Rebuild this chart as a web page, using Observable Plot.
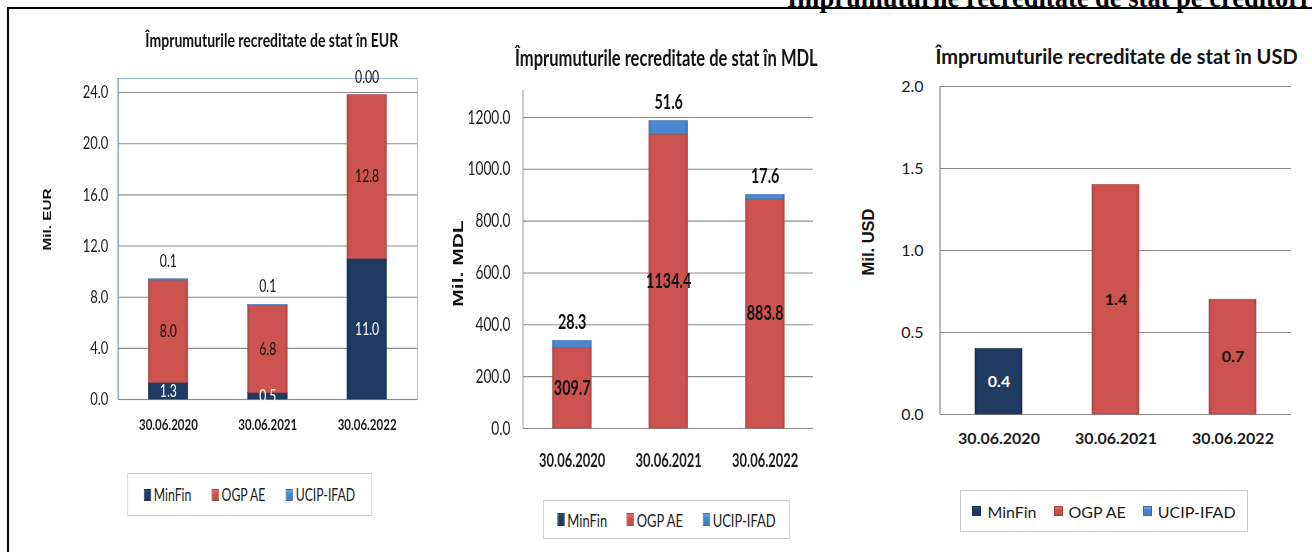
<!DOCTYPE html>
<html>
<head>
<meta charset="utf-8">
<script src="https://cdn.jsdelivr.net/npm/d3@7"></script>
<script src="https://cdn.jsdelivr.net/npm/@observablehq/plot@0.6"></script>
<style>
html,body{margin:0;padding:0;background:#fff;}
#root{position:relative;width:1312px;height:553px;overflow:hidden;background:#fff;}
.panel{position:absolute;top:0;height:553px;transform-origin:0 0;}
.panel svg{position:absolute;left:0;overflow:visible;}
.legend{position:absolute;box-sizing:border-box;border:1.5px solid #cacaca;display:flex;align-items:center;justify-content:center;font-family:Lato,sans-serif;color:#1a1a1a;background:#fff;white-space:nowrap;}
.item{display:flex;align-items:center;}
.sw{display:inline-block;box-sizing:border-box;}
#header{position:absolute;left:787px;top:-15px;font:bold 26.5px/26.5px "Liberation Serif",serif;white-space:nowrap;color:#000;}
#topline{position:absolute;left:7px;top:7px;width:1305px;height:2px;background:#000;}
#leftline{position:absolute;left:7px;top:7px;width:2px;height:545px;background:#000;}
</style>
</head>
<body>
<div id="root">
  <div id="header">Împrumuturile recreditate de stat pe creditori</div>
  <div id="topline"></div>
  <div id="leftline"></div>
</div>
<script>
// ---------- data ----------
const dates = ["30.06.2020", "30.06.2021", "30.06.2022"];
const seriesNames = ["MinFin", "OGP AE", "UCIP-IFAD"];
const seriesColors = ["#1F3B62", "#CD5350", "#4C87CF"];

const eurMinFin = [1.3, 0.5, 11.0];
const eurOgpAe = [8.0, 6.8, 12.8];
const eurUcipIfad = [0.1, 0.1, 0.0];
const eurUcipText = ["0.1", "0.1", "0.00"];
const eurTicks = [0, 4, 8, 12, 16, 20, 24];

const mdlMinFin = [0, 0, 0];
const mdlOgpAe = [309.7, 1134.4, 883.8];
const mdlUcipIfad = [28.3, 51.6, 17.6];
const mdlUcipText = ["28.3", "51.6", "17.6"];
const mdlTicks = [0, 200, 400, 600, 800, 1000, 1200];

const usdMinFin = [0.4, 0, 0];
const usdOgpAe = [0, 1.4, 0.7];
const usdUcipIfad = [0, 0, 0];
const usdTicks = [0, 0.5, 1.0, 1.5, 2.0];

// ---------- helpers ----------
const gradIds = ["gMinFin", "gOgp", "gUcip"];
function shade(c, k) { return d3.color(c).darker(k).formatHex(); }
function lighten(c, k) { return d3.color(c).brighter(k).formatHex(); }

function buildRows(lists) {
  const rows = [];
  dates.forEach((date, i) => {
    let acc = 0;
    lists.forEach((vals, j) => {
      const v = vals[i];
      rows.push({date, series: seriesNames[j], idx: j, value: v, y1: acc, y2: acc + v, mid: acc + v / 2});
      acc += v;
    });
  });
  return rows;
}

function defsMark() {
  return () => {
    const defs = d3.create("svg:defs");
    seriesColors.forEach((c, j) => {
      const g = defs.append("linearGradient").attr("id", gradIds[j]).attr("x1", 0).attr("x2", 1).attr("y1", 0).attr("y2", 0);
      g.append("stop").attr("offset", "0%").attr("stop-color", shade(c, 0.45));
      g.append("stop").attr("offset", "7%").attr("stop-color", c);
      g.append("stop").attr("offset", "93%").attr("stop-color", c);
      g.append("stop").attr("offset", "100%").attr("stop-color", shade(c, 0.45));
    });
    return defs.node();
  };
}

function leftLineMark(color) {
  return (index, scales, values, dims) => {
    return d3.create("svg:line")
      .attr("x1", dims.marginLeft).attr("x2", dims.marginLeft)
      .attr("y1", dims.marginTop).attr("y2", dims.height - dims.marginBottom)
      .attr("stroke", color).attr("stroke-width", 1.2).node();
  };
}

function makePanel(cfg) {
  const root = document.getElementById("root");
  const panel = document.createElement("div");
  panel.className = "panel";
  panel.style.left = cfg.left + "px";
  panel.style.width = cfg.width + "px";
  panel.style.transform = `scaleX(${cfg.scale})`;
  root.appendChild(panel);

  const rows = buildRows(cfg.lists);
  const inner = rows.filter(d => d.idx < 2 && d.value > 0);
  const tops = rows.filter(d => d.idx === 2);
  const marks = [
    defsMark(),
    Plot.ruleY(cfg.ticks, {stroke: "#8c8c8c", strokeWidth: 1.1}),
  ];
  if (cfg.frame) marks.push(Plot.frame({stroke: "#9DB9DC", strokeWidth: 1.2}));
  marks.push(leftLineMark("#8c8c8c"));
  marks.push(Plot.ruleY([0], {stroke: "#8c8c8c", strokeWidth: 1.2}));
  [0, 1, 2].forEach(j => {
    marks.push(Plot.barY(rows.filter(d => d.idx === j && d.value > 0), {
      x: "date", y1: "y1", y2: "y2",
      fill: `url(#${gradIds[j]})`,
      stroke: shade(seriesColors[j], 0.5), strokeWidth: 0.6
    }));
  });
  marks.push(
    Plot.axisY(cfg.ticks, {tickSize: 0, tickPadding: cfg.yPad, tickFormat: d3.format(".1f"), fontSize: cfg.tickFont, fill: "#1a1a1a"}),
    Plot.axisX({tickSize: 0, tickPadding: cfg.xPad, fontSize: cfg.xFont, fontWeight: "bold", fill: "#1a1a1a"}),
    Plot.text(inner, {x: "date", y: "mid", text: d => d3.format(".1f")(d.value),
      fill: d => d.idx === 0 ? "#ffffff" : "#111111", fontSize: cfg.valFont, fontWeight: cfg.valWeight}),
  );
  if (cfg.topText) {
    marks.push(Plot.text(tops, {x: "date", y: "y2", text: d => cfg.topText[dates.indexOf(d.date)],
      dy: cfg.topDy, fill: "#111111", fontSize: cfg.valFont, fontWeight: cfg.valWeight}));
  }
  marks.push(
    Plot.text([cfg.title], {frameAnchor: "top", lineAnchor: "middle", textAnchor: "middle", dx: cfg.titleDx, dy: cfg.titleDy,
      fontSize: cfg.titleFont, fontWeight: "bold", fill: "#111111"}),
    Plot.text([cfg.ylabel], {frameAnchor: "left", textAnchor: "middle", lineAnchor: "middle", rotate: -90,
      dx: cfg.ylabelDx, dy: cfg.ylabelDy, fontSize: cfg.ylabelFont, fontWeight: "bold",
      fontFamily: "'Liberation Sans', Arial, sans-serif", fill: "#111111"})
  );

  const chart = Plot.plot({
    width: cfg.width, height: cfg.height,
    marginLeft: cfg.mL, marginRight: cfg.mR, marginTop: cfg.mT, marginBottom: cfg.mB,
    style: {fontFamily: "Lato, sans-serif", background: "transparent", overflow: "visible"},
    x: {domain: dates, paddingInner: 0.6, paddingOuter: 0.3, label: null},
    y: {domain: [0, cfg.yMax], label: null},
    marks
  });
  chart.style.top = cfg.svgTop + "px";
  panel.appendChild(chart);

  const lg = document.createElement("div");
  lg.className = "legend";
  lg.style.left = cfg.lgLeft + "px";
  lg.style.top = cfg.lgTop + "px";
  lg.style.width = cfg.lgWidth + "px";
  lg.style.height = cfg.lgHeight + "px";
  lg.style.fontSize = cfg.lgFont + "px";
  lg.style.gap = cfg.lgGap + "px";
  seriesNames.forEach((name, j) => {
    const it = document.createElement("span");
    it.className = "item";
    const sw = document.createElement("span");
    sw.className = "sw";
    const c = seriesColors[j];
    sw.style.width = cfg.swW + "px";
    sw.style.height = cfg.swH + "px";
    sw.style.marginRight = cfg.swGap + "px";
    sw.style.background = `linear-gradient(to bottom, ${lighten(c, 0.6)} 0%, ${c} 35%, ${shade(c, 0.3)} 100%)`;
    sw.style.border = `1px solid ${shade(c, 0.6)}`;
    const tx = document.createElement("span");
    tx.textContent = name;
    it.appendChild(sw); it.appendChild(tx);
    lg.appendChild(it);
  });
  panel.appendChild(lg);
}

// ---------- panels ----------
makePanel({
  left: 10, scale: 0.72, width: 583, height: 440, svgTop: 15,
  mL: 150, mR: 17.7, mT: 63, mB: 56, yMax: 25.1, frame: true,
  lists: [eurMinFin, eurOgpAe, eurUcipIfad], ticks: eurTicks, topText: eurUcipText, topDy: -18,
  tickFont: 18, yPad: 14, xFont: 16, xPad: 19, valFont: 17, valWeight: "normal",
  title: "Împrumuturile recreditate de stat în EUR", titleFont: 19.5, titleDx: 5.5, titleDy: -38,
  ylabel: "Mil. EUR", ylabelFont: 15.3, ylabelDx: -98.6, ylabelDy: -19.5,
  lgLeft: 162.5, lgTop: 473, lgWidth: 340, lgHeight: 43, lgFont: 17, lgGap: 28, swW: 10, swH: 12, swGap: 4
});

makePanel({
  left: 430, scale: 0.72, width: 583, height: 470, svgTop: 15,
  mL: 129.2, mR: 51, mT: 75, mB: 57, yMax: 1304, frame: false,
  lists: [mdlMinFin, mdlOgpAe, mdlUcipIfad], ticks: mdlTicks, topText: mdlUcipText, topDy: -18,
  tickFont: 19, yPad: 18, xFont: 18, xPad: 25.5, valFont: 20, valWeight: "bold",
  title: "Împrumuturile recreditate de stat în MDL", titleFont: 23, titleDx: -2.8, titleDy: -32,
  ylabel: "Mil. MDL", ylabelFont: 21, ylabelDx: -90.3, ylabelDy: 4,
  lgLeft: 156.9, lgTop: 500, lgWidth: 343, lgHeight: 39, lgFont: 18, lgGap: 27, swW: 10, swH: 13, swGap: 4
});

makePanel({
  left: 850, scale: 1, width: 462, height: 470, svgTop: 15,
  mL: 90, mR: 21, mT: 71, mB: 71, yMax: 2.0, frame: false,
  lists: [usdMinFin, usdOgpAe, usdUcipIfad], ticks: usdTicks, topText: null, topDy: 0,
  tickFont: 16, yPad: 17, xFont: 16, xPad: 18, valFont: 16, valWeight: "bold",
  title: "Împrumuturile recreditate de stat în USD", titleFont: 20, titleDx: 0.5, titleDy: -28.5,
  ylabel: "Mil. USD", ylabelFont: 16.5, ylabelDx: -72, ylabelDy: -8.5,
  lgLeft: 110, lgTop: 490, lgWidth: 288, lgHeight: 42, lgFont: 16, lgGap: 17, swW: 9, swH: 10, swGap: 6
});
</script>
</body>
</html>
